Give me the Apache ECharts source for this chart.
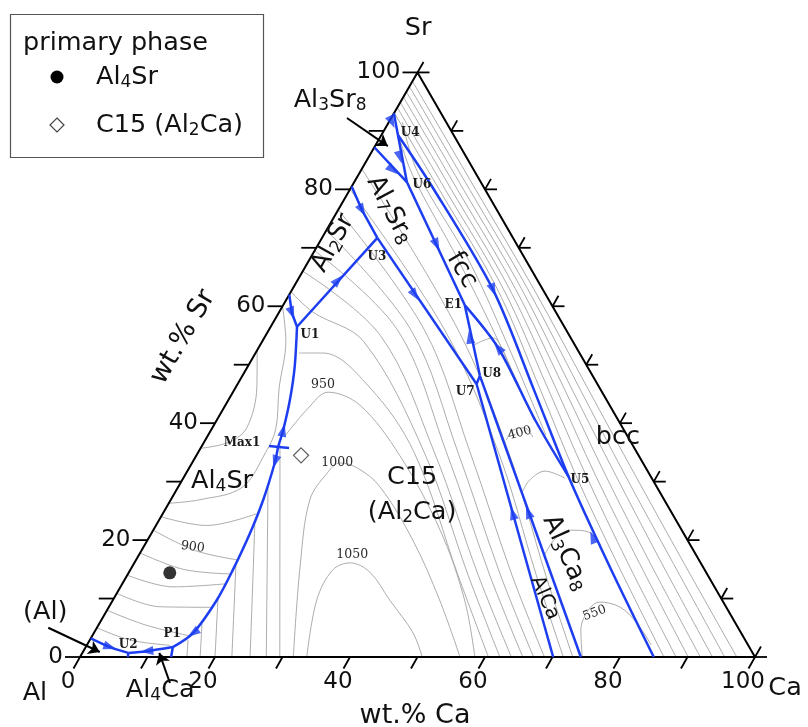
<!DOCTYPE html>
<html>
<head>
<meta charset="utf-8">
<script src="https://cdn.jsdelivr.net/npm/echarts@6/dist/echarts.min.js"></script>
<style>html,body{margin:0;padding:0;background:#fff;}#chart{width:808px;height:727px;}</style>
</head>
<body>
<div id="chart"></div>
<script>
// all compositions are [wt.% Ca, wt.% Sr]
const edgeTicks = [0,10,20,30,40,50,60,70,80,90,100];
const srTickLabels = [0,20,40,60,80,100];
const caTickLabels = [0,20,40,60,80,100];

// blue univariant lines
const bU1top = [[0,62],[2.0,58.8],[3.9,56.5]];
const bU1U3 = [[3.9,56.5],[8.2,71.7]];
const b80U3 = [[0,80.5],[3.6,76.4],[8.2,71.7]];
const bU3U7 = [[8.2,71.7],[35.4,46.7]];
const bU7U8 = [[35.4,46.7],[35.2,48.1]];
const bU7bottom = [[35.4,46.7],[70.1,0]];
const bU8bottom = [[35.2,48.1],[74.2,0]];
const bE1U8 = [[26.9,60.2],[35.2,48.1]];
const bE1U5 = [[26.9,60.2],[35.5,52.9],[47.2,40.5],[57.0,30.8]];
const bU6E1 = [[7.8,81.25],[26.9,60.2]];
const bU4U6 = [[2.45,89.3],[7.8,81.25]];
const bEdgeU6 = [[0,87.2],[7.8,81.25]];
const bEdgeU4 = [[0,93.0],[2.45,89.3]];
const bRight = [[2.45,89.3],[12.0,80.4],[29.8,62.8],[44.4,45.7],[57.0,30.8],[70.8,15.4],[85.0,0]];
const bAl4Sr = [[3.9,56.5],[7.0,49.6],[9.1,44.0],[10.7,38.8],[11.4,35.9],[12.2,33.4],[13.7,26.9],[14.6,21.2],[15.2,14.9],[15.4,9.75],[14.7,4.1],[12.9,1.7]];
const bP1U2 = [[12.9,1.7],[9.4,1.0],[6.8,0.7]];
const bU2Al = [[6.8,0.7],[3.6,1.7],[0,3.2]];
const bP1 = [[12.9,1.7],[13.5,0]];
const bU2 = [[6.8,0.7],[7.1,0]];
const bMax1 = [[9.95,36.1],[13.1,35.75]];

// arrow heads: [position, point it heads towards]
const arrows = [
  [[2.0,58.8],[3.9,56.5]],
  [[6.0,64.5],[8.2,71.7]],
  [[3.6,76.4],[8.2,71.7]],
  [[18.7,61.9],[35.4,46.7]],
  [[17.6,70.5],[26.9,60.2]],
  [[4.65,85.5],[7.8,81.25]],
  [[4.7,83.3],[7.8,81.25]],
  [[0.45,91.5],[2.45,89.3]],
  [[29.8,62.8],[44.4,45.7]],
  [[30.4,54.7],[26.9,60.2]],
  [[35.5,52.9],[26.9,60.2]],
  [[51.8,24.6],[35.4,46.7]],
  [[54.0,24.8],[35.2,48.1]],
  [[65.7,20.5],[57.0,30.8]],
  [[10.7,38.8],[9.1,44.0]],
  [[12.2,33.4],[13.7,26.9]],
  [[14.7,4.1],[12.9,1.7]],
  [[9.4,1.0],[6.8,0.7]],
  [[3.6,1.7],[6.8,0.7]]
];

// grey liquidus isotherms
const grayAl4Sr = [
  [[0,5],[6,2.9],[12.3,2.0]],
  [[0,8],[6.9,5.5],[14.5,3.6]],
  [[0,10.9],[7.5,8.6],[15.4,8.5]],
  [[0,14],[7.8,12],[15.2,12.5]],
  [[0,17.8],[7.8,15],[15.2,14.2]],
  [[0,21.7],[8,18.2],[15.1,16.6]],
  [[0,24],[7.5,22.5],[13.9,24.5]],
  [[0,26.3],[4.3,26.9],[9.5,29],[10,35],[9.5,39],[6.5,46],[3.5,54],[0,60]],
  [[0,35.7],[3.8,36.8],[5.1,39.3],[3.1,46.2],[0,52.5]]
];
const grayC15left = [
  [[15.85,0],[14.55,2.9]],
  [[17.8,0],[15.25,5.65]],
  [[20.0,0],[15.4,10.1]],
  [[22.5,0],[15.25,15.7]],
  [[25.2,0],[14.6,22.6]],
  [[27.6,0],[13.15,29.4]],
  [[29.6,0],[11.5,36.25]]
];
const grayDomes = [
  [[33.6,0],[30.2,9.75],[30,14.9],[32,16.1],[35.7,14.5],[41,9.75],[47.3,4.1],[50.7,0]],
  [[31.6,0],[24.9,15.4],[20.6,26.9],[20.9,31.5],[21.9,33.2],[25,32.3],[29.9,29.1],[39.3,20],[48.4,9.75],[56.3,0]],
  [[11.5,38],[12.5,42.5],[14.1,45.3],[19.9,43.1],[30.1,34.5],[42.5,21.7],[52.1,9.75],[58.5,0]]
];
const grayFan = [
  [[60.5,0],[49,14],[32,35],[20,46],[10,52],[6.4,52]],
  [[62.2,0],[50.5,14],[33.5,35],[15,54],[5,59],[0,62.5]],
  [[63.9,0],[52,14],[35,35],[17,55],[0,66]],
  [[65.6,0],[53.7,14],[36.8,35],[19,56],[0,69.5]],
  [[67.2,0],[55.3,14],[38.5,35],[21,56],[0,73]],
  [[68.8,0],[57,14],[40.3,35],[23,56],[0,76.5]],
  [[71.6,0],[60.6,14],[44.5,35],[26,56],[0,80]],
  [[73.0,0],[62,14],[46,35],[28,56],[0,83.5]],
  [[50,38],[37,53],[24,67.5],[8.5,83],[2,91.5]],
  [[47,40.5],[35,54],[22,68],[8,82.5],[2,90]]
];
const grayBcc = [
  [[86.5,0],[71.6,16],[58,31],[45.1,46],[30.3,63],[13.2,80],[0,93.1]],
  [[88.3,0],[73.2,16],[59.5,31],[46.3,46],[31.2,63],[14.1,80],[0,94]],
  [[90.1,0],[74.9,16],[60.9,31],[47.5,46],[32.1,63],[15,80],[0,94.9]],
  [[91.9,0],[76.5,16],[62.4,31],[48.7,46],[33,63],[15.9,80],[0,95.8]],
  [[93.7,0],[78.2,16],[63.9,31],[49.8,46],[33.9,63],[16.8,80],[0,96.7]],
  [[95.5,0],[79.9,16],[65.3,31],[51,46],[34.8,63],[17.7,80],[0,97.6]],
  [[97.3,0],[81.5,16],[66.8,31],[52.2,46],[35.7,63],[18.6,80],[0,98.5]]
];
const graySmall = [
  [[31.7,53.4],[33.9,54.6],[36.4,52.5],[40.45,47.7]],
  [[44.6,37.1],[44.75,38.8],[46.2,39.2],[48.3,37.6]],
  [[51.4,28.2],[51.5,30.3],[53,31.8],[56.55,30.6]],
  [[60.1,17.3],[60.3,20.35],[62,21.7],[64.6,21.4],[67.6,19.15]],
  [[74.4,0],[71.9,4.6],[71.3,8.0],[72.3,9.4],[75.7,8.55],[79.6,5.8],[83.6,2.05]]
];

// primary phase samples
const sampleAl4Sr = [[6.1,14.4]];
const sampleC15 = [[15.5,34.5]];

// leader arrows [from, to]
const leaders = [
  [[-6.55,92.2],[1.9,87.4]],
  [[-7.2,5.0],[2.5,0.86]],
  [[15.55,-4.45],[11.4,0.7]]
];

// text annotations
const phaseLabels = [
  {t:'{n|Al}{s|4}{n|Sr}', p:[6.0,30.1]},
  {t:'{n|C15}', p:[33.8,30.8]},
  {t:'{n|(Al}{s|2}{n|Ca)}', p:[36.8,24.8]},
  {t:'{n|bcc}', p:[60.9,37.6]},
  {t:'{n|fcc}', p:[23.5,66.2], r:-60},
  {t:'{n|Al}{s|7}{n|Sr}{s|8}', p:[7.65,76.5], r:-62},
  {t:'{n|Al}{s|2}{n|Sr}', p:[2.1,70.8], r:61},
  {t:'{n|Al}{s|3}{n|Ca}{s|8}', p:[63,17.8], r:-66},
  {t:'{m|AlCa}', p:[63.8,10.1], r:-66},
  {t:'{n|(Al)}', p:[-9.0,7.7]},
  {t:'{n|Al}{s|3}{n|Sr}{s|8}', p:[-10.6,95.3]},
  {t:'{n|Al}{s|4}{n|Ca}', p:[14.7,-5.64]},
  {t:'{n|Al}', p:[-3.6,-6.16]},
  {t:'{n|Ca}', p:[107.1,-5.3]},
  {t:'{n|Sr}', p:[-3.7,107.6]}
];
const pointLabels = [
  {t:'U4', p:[4.1,89.6]}, {t:'U6', p:[10.3,80.7]}, {t:'U3', p:[9.8,68.4]},
  {t:'U1', p:[6.5,55.1]}, {t:'E1', p:[25.2,60.2]}, {t:'U8', p:[36.8,48.4]},
  {t:'U7', p:[34.4,45.3]}, {t:'U5', p:[58.9,30.3]}, {t:'Max1', p:[5.7,36.6]},
  {t:'P1', p:[11.7,3.9]}, {t:'U2', p:[6.1,2.05]}
];
const tempLabels = [
  {t:'950', p:[12.75,46.5]}, {t:'1000', p:[21.5,33.2]}, {t:'1050', p:[31.6,17.45]},
  {t:'900', p:[7.3,18.8], r:-8}, {t:'400', p:[46.0,38.3], r:15}, {t:'550', p:[72.5,7.5], r:20}
];

const S = Math.sqrt(3) / 2;
const T = p => [p[0] + p[1] / 2, p[1] * S];
const BLUE = '#1d3ef0';
const GRAY = '#acacac';
const INK = '#111111';
const FONT = '"DejaVu Sans", "Liberation Sans", sans-serif';
const SERIF = '"DejaVu Serif", "Liberation Serif", serif';

const series = [];
function addLine(pts, color, width, smooth, z) {
  series.push({type:'line', data: pts.map(T), symbol:'none', smooth: smooth || false,
    clip:false, silent:true, z: z || 2, lineStyle:{color: color, width: width}});
}
[grayAl4Sr, grayC15left, grayDomes, grayFan, grayBcc, graySmall].forEach(g => g.forEach(l => addLine(l, GRAY, 1, 0.35, 1)));

// triangle frame
addLine([[0,0],[100,0],[0,100],[0,0]], '#000', 2, false, 3);

// blue lines
[bU1top, bU1U3, b80U3, bU3U7, bU7U8, bU7bottom, bU8bottom, bE1U8, bU6E1, bU4U6, bEdgeU6, bEdgeU4, bP1, bU2, bMax1]
  .forEach(l => addLine(l, BLUE, 2.5, false, 4));
[bE1U5, bRight, bAl4Sr, bP1U2, bU2Al].forEach(l => addLine(l, BLUE, 2.5, 0.3, 4));

// arrow heads
series.push({type:'scatter', z:5, clip:false, silent:true, symbol:'triangle', symbolSize:[9,13],
  itemStyle:{color: BLUE},
  data: arrows.map(([a, b]) => {
    const A = T(a), B = T(b);
    const ang = Math.atan2(B[1] - A[1], B[0] - A[0]) * 180 / Math.PI;
    return {value: A, symbolRotate: ang - 90};
  })});

// sample markers
series.push({type:'scatter', z:5, clip:false, silent:true, symbol:'circle', symbolSize:13,
  itemStyle:{color:'#000'}, data: sampleAl4Sr.map(T)});
series.push({type:'scatter', z:5, clip:false, silent:true, symbol:'diamond', symbolSize:[15,15],
  itemStyle:{color:'#fff', borderColor:'#333', borderWidth:1.2}, data: sampleC15.map(T)});

// leader arrows
series.push({type:'lines', coordinateSystem:'cartesian2d', z:5, silent:true, symbol:['none','arrow'], symbolSize:11,
  lineStyle:{color:'#000', width:2, opacity:1},
  data: leaders.map(([a, b]) => ({coords:[T(a), T(b)]}))});

// edge ticks and tick labels
series.push({type:'custom', coordinateSystem:'cartesian2d', z:3, silent:true, clip:false,
  data: edgeTicks.map(v => [v, 0]),
  renderItem: (params, api) => {
    const v = api.value(0);
    const L = api.coord(T([0, v])), B = api.coord(T([v, 0])), R = api.coord(T([100 - v, v]));
    const st = {stroke:'#000', lineWidth:1.8};
    const ch = [
      {type:'line', shape:{x1:L[0], y1:L[1], x2:L[0]-15, y2:L[1]}, style:st},
      {type:'line', shape:{x1:B[0], y1:B[1], x2:B[0]-6.5, y2:B[1]+11.5}, style:st},
      {type:'line', shape:{x1:R[0], y1:R[1], x2:R[0]+12, y2:R[1]}, style:st},
      {type:'line', shape:{x1:R[0], y1:R[1], x2:R[0]+6, y2:R[1]-10.5}, style:st}
    ];
    if (srTickLabels.indexOf(v) >= 0) {
      ch.push({type:'text', x:L[0]-17, y:L[1], style:{text:String(v), font:'23px ' + FONT, fill:INK, align:'right', verticalAlign:'middle'}});
    }
    if (caTickLabels.indexOf(v) >= 0) {
      ch.push({type:'text', x:B[0]-12, y:B[1]+25, style:{text:String(v), font:'23px ' + FONT, fill:INK, align:'center', verticalAlign:'middle'}});
    }
    return {type:'group', children: ch};
  }});

// text annotations drawn through the cartesian scale
const RICH = {
  n:{fontSize:25.5, fontFamily:FONT, fill:INK, lineHeight:28},
  s:{fontSize:17, fontFamily:FONT, fill:INK, lineHeight:10, verticalAlign:'bottom'},
  m:{fontSize:20, fontFamily:FONT, fill:INK, lineHeight:22}
};
function addLabels(items, textStyle) {
  series.push({type:'custom', coordinateSystem:'cartesian2d', z:6, silent:true, clip:false,
    data: items.map((it, i) => T(it.p).concat([i])),
    renderItem: (params, api) => {
      const it = items[api.value(2)];
      const P = api.coord([api.value(0), api.value(1)]);
      return {type:'text', x:P[0], y:P[1], rotation:(it.r || 0) * Math.PI / 180,
        style: Object.assign({text: it.t, align:'center', verticalAlign:'middle'}, textStyle)};
    }});
}
addLabels(phaseLabels, {rich: RICH, fill: INK});
addLabels(pointLabels, {font:'bold 12px ' + SERIF, fill:'#1a1a1a'});
addLabels(tempLabels, {font:'12.5px ' + SERIF, fill:'#2a2a2a'});

const chart = echarts.init(document.getElementById('chart'), null, {renderer:'canvas'});
chart.setOption({
  animation:false,
  backgroundColor:'#fff',
  grid:{left:0, right:0, top:0, bottom:0},
  xAxis:{type:'value', min:-11.852, max:107.852, show:false},
  yAxis:{type:'value', min:-10.370, max:97.333, show:false},
  graphic:[
    {type:'rect', shape:{x:10.5, y:14.5, width:253, height:143}, style:{fill:'#fff', stroke:'#555', lineWidth:1.2}, z:10},
    {type:'text', x:23, y:43, z:11, style:{text:'primary phase', font:'25.5px ' + FONT, fill:INK, verticalAlign:'middle'}},
    {type:'circle', shape:{cx:57, cy:77, r:6.5}, style:{fill:'#000'}, z:11},
    {type:'text', x:96, y:77, z:11, style:{text:'{n|Al}{s|4}{n|Sr}', verticalAlign:'middle', rich:RICH}},
    {type:'polygon', shape:{points:[[57,118],[64,125],[57,132],[50,125]]}, style:{fill:'#fff', stroke:'#444', lineWidth:1.2}, z:11},
    {type:'text', x:96, y:125, z:11, style:{text:'{n|C15 (Al}{s|2}{n|Ca)}', verticalAlign:'middle', rich:RICH}},
    {type:'text', x:183, y:337, rotation:Math.PI/3, z:11, style:{text:'wt.% Sr', font:'27px ' + FONT, fill:INK, align:'center', verticalAlign:'middle'}},
    {type:'text', x:415, y:716, z:11, style:{text:'wt.% Ca', font:'27px ' + FONT, fill:INK, align:'center', verticalAlign:'middle'}}
  ],
  series: series
});
</script>
</body>
</html>
